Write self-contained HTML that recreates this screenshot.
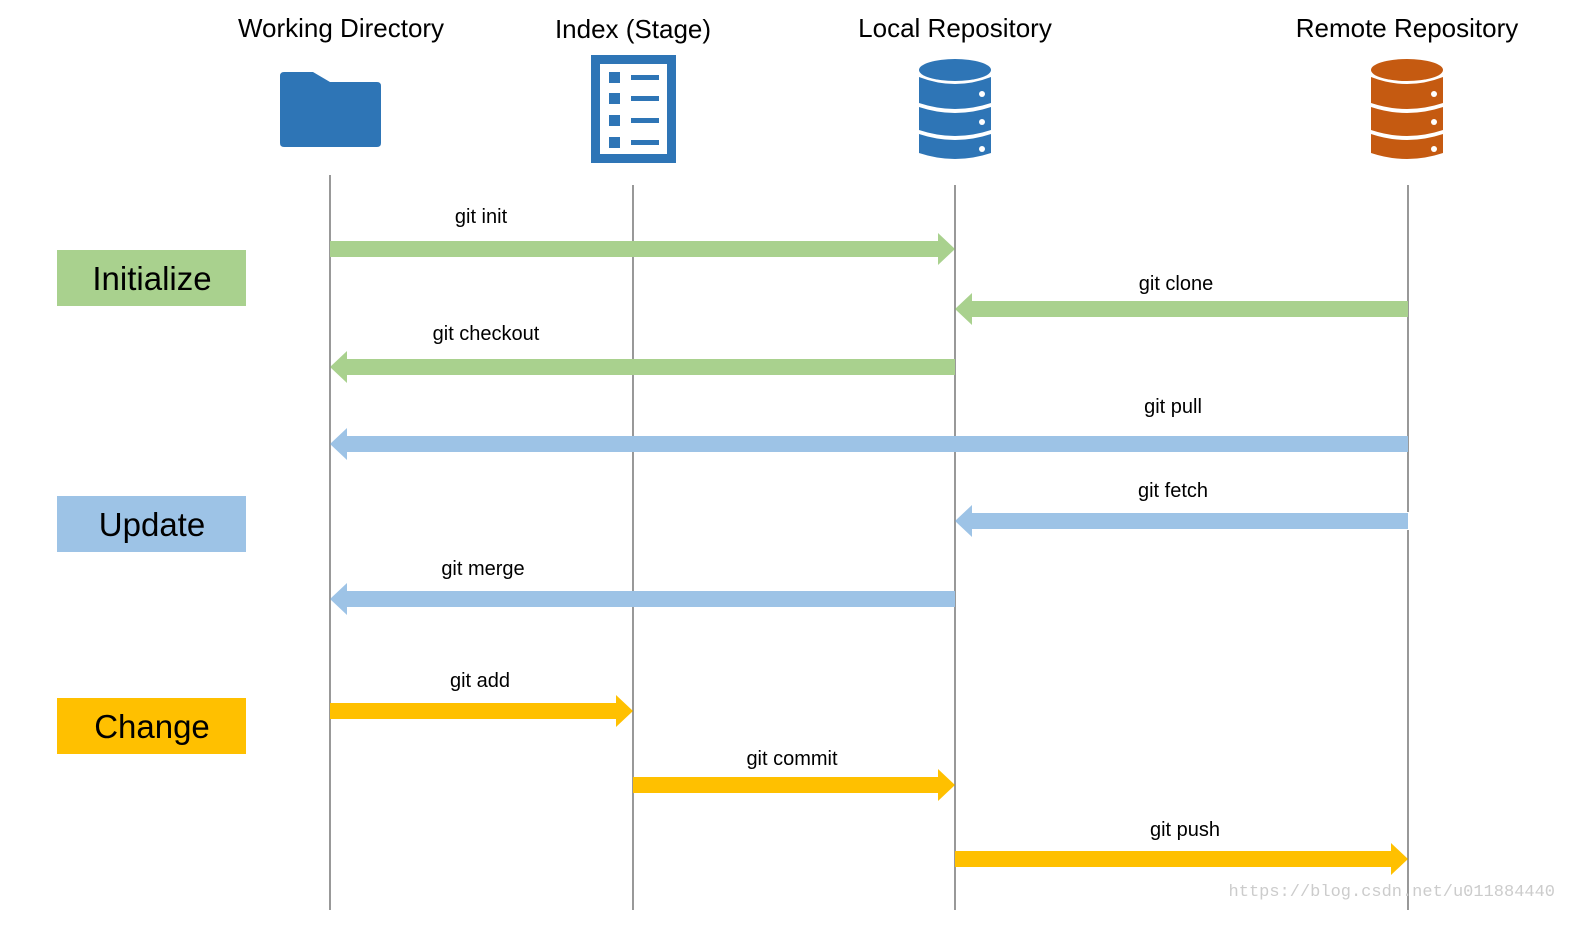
<!DOCTYPE html>
<html><head><meta charset="utf-8"><style>
body{margin:0;background:#fff;width:1593px;height:925px;overflow:hidden}
svg{display:block}
text{font-family:"Liberation Sans",sans-serif;fill:#000}
</style></head><body>
<svg width="1593" height="925" viewBox="0 0 1593 925" xmlns="http://www.w3.org/2000/svg">
<g font-size="26" text-anchor="middle">
<text x="341" y="37">Working Directory</text>
<text x="633" y="38">Index (Stage)</text>
<text x="955" y="37">Local Repository</text>
<text x="1407" y="37">Remote Repository</text>
</g>
<path d="M284 72 H313 L330 82 H377 Q381 82 381 86 V143 Q381 147 377 147 H284 Q280 147 280 143 V76 Q280 72 284 72 Z" fill="#2e75b6"/>
<rect x="591" y="55" width="85" height="108" fill="#2e75b6"/>
<rect x="600" y="64" width="67" height="90" fill="#fff"/>
<g fill="#2e75b6">
<rect x="609" y="72" width="11" height="11"/><rect x="631" y="75" width="28" height="5"/>
<rect x="609" y="93" width="11" height="11"/><rect x="631" y="96" width="28" height="5"/>
<rect x="609" y="115" width="11" height="11"/><rect x="631" y="118" width="28" height="5"/>
<rect x="609" y="137" width="11" height="11"/><rect x="631" y="140" width="28" height="5"/>
</g>
<g>
<ellipse cx="955" cy="70" rx="36" ry="11" fill="#2e75b6"/>
<path d="M919 77 Q955 91 991 77 V103 Q955 115 919 103 Z" fill="#2e75b6"/>
<path d="M919 107 Q955 119 991 107 V130 Q955 142 919 130 Z" fill="#2e75b6"/>
<path d="M919 134 Q955 146 991 134 V153 Q955 165 919 153 Z" fill="#2e75b6"/>
<circle cx="982" cy="94" r="3" fill="#fff"/><circle cx="982" cy="122" r="3" fill="#fff"/><circle cx="982" cy="149" r="3" fill="#fff"/>
</g>
<g transform="translate(452,0)">
<ellipse cx="955" cy="70" rx="36" ry="11" fill="#c55a11"/>
<path d="M919 77 Q955 91 991 77 V103 Q955 115 919 103 Z" fill="#c55a11"/>
<path d="M919 107 Q955 119 991 107 V130 Q955 142 919 130 Z" fill="#c55a11"/>
<path d="M919 134 Q955 146 991 134 V153 Q955 165 919 153 Z" fill="#c55a11"/>
<circle cx="982" cy="94" r="3" fill="#fff"/><circle cx="982" cy="122" r="3" fill="#fff"/><circle cx="982" cy="149" r="3" fill="#fff"/>
</g>
<g stroke="#555" stroke-width="1.2">
<line x1="330" y1="175" x2="330" y2="910"/>
<line x1="633" y1="185" x2="633" y2="910"/>
<line x1="955" y1="185" x2="955" y2="910"/>
<line x1="1408" y1="185" x2="1408" y2="512"/>
<line x1="1408" y1="530" x2="1408" y2="910"/>
</g>
<rect x="57" y="250" width="189" height="56" fill="#a9d18e"/>
<rect x="57" y="496" width="189" height="56" fill="#9dc3e6"/>
<rect x="57" y="698" width="189" height="56" fill="#ffc000"/>
<g font-size="33" text-anchor="middle">
<text x="152" y="290">Initialize</text>
<text x="152" y="536">Update</text>
<text x="152" y="738">Change</text>
</g>
<g>
<polygon fill="#a9d18e" points="330,241 938,241 938,233 955,249 938,265 938,257 330,257"/>
<polygon fill="#ffc000" points="330,703 616,703 616,695 633,711 616,727 616,719 330,719"/>
<polygon fill="#ffc000" points="633,777 938,777 938,769 955,785 938,801 938,793 633,793"/>
<polygon fill="#ffc000" points="955,851 1391,851 1391,843 1408,859 1391,875 1391,867 955,867"/>
<polygon fill="#a9d18e" points="1408,301 972,301 972,293 955,309 972,325 972,317 1408,317"/>
<polygon fill="#a9d18e" points="955,359 347,359 347,351 330,367 347,383 347,375 955,375"/>
<polygon fill="#9dc3e6" points="1408,436 347,436 347,428 330,444 347,460 347,452 1408,452"/>
<polygon fill="#9dc3e6" points="1408,513 972,513 972,505 955,521 972,537 972,529 1408,529"/>
<polygon fill="#9dc3e6" points="955,591 347,591 347,583 330,599 347,615 347,607 955,607"/>
</g>
<g font-size="20" text-anchor="middle">
<text x="481" y="223">git init</text>
<text x="1176" y="290">git clone</text>
<text x="486" y="340">git checkout</text>
<text x="1173" y="413">git pull</text>
<text x="1173" y="497">git fetch</text>
<text x="483" y="575">git merge</text>
<text x="480" y="687">git add</text>
<text x="792" y="765">git commit</text>
<text x="1185" y="836">git push</text>
</g>
<text x="1555" y="896" font-size="17" text-anchor="end" style="fill:#ccc;font-family:'Liberation Mono',monospace">https://blog.csdn.net/u011884440</text>
</svg>
</body></html>
